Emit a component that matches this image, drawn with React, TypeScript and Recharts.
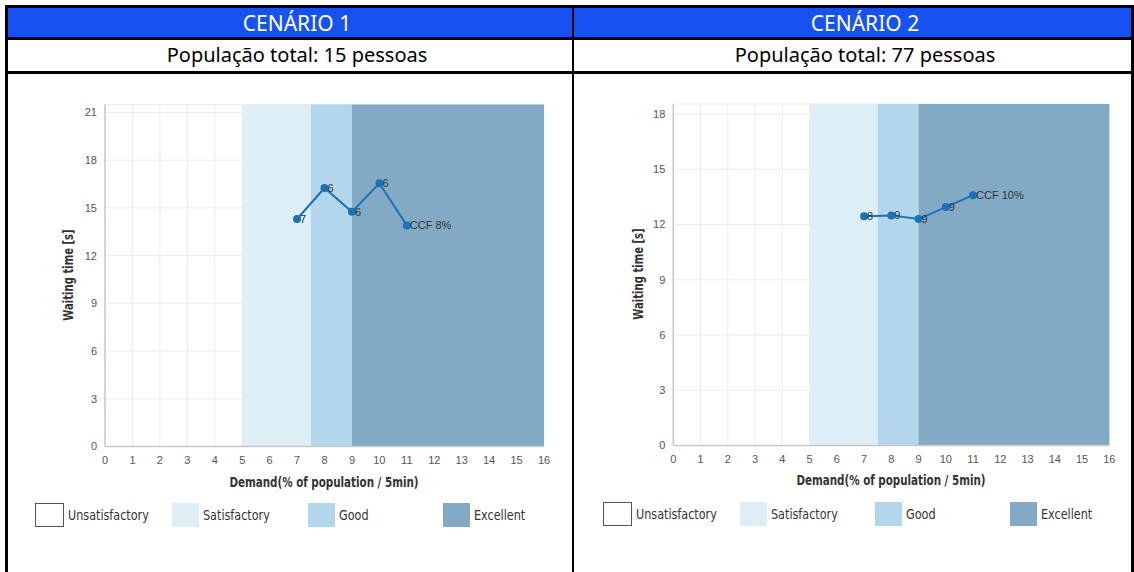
import React from "react";
import {
  CartesianGrid,
  LabelList,
  Line,
  LineChart,
  ReferenceArea,
  XAxis,
  YAxis,
} from "recharts";

// demand (% of population / 5min) and waiting time (s)
const demand = [7, 8, 9, 10, 11];
const waitScenario1 = [14.3, 16.25, 14.75, 16.55, 13.9];
const labelsScenario1 = ["7", "6", "6", "6", "CCF 8%"];
const waitScenario2 = [12.45, 12.5, 12.3, 12.95, 13.6];
const labelsScenario2 = ["8", "9", "9", "9", "CCF 10%"];

const xTicks = [0, 1, 2, 3, 4, 5, 6, 7, 8, 9, 10, 11, 12, 13, 14, 15, 16];
const yTicks1 = [0, 3, 6, 9, 12, 15, 18, 21];
const yTicks2 = [0, 3, 6, 9, 12, 15, 18];

const bandNames = ["Unsatisfactory", "Satisfactory", "Good", "Excellent"];
const bandFrom = [0, 5, 7.5, 9];
const bandTo = [5, 7.5, 9, 16];
const bandColors = ["#ffffff", "#ddeef7", "#b4d6ec", "#82aac4"];

const LINE = "#1a72b9";
const NARROW = '"Liberation Sans Narrow", "DejaVu Sans Condensed", sans-serif';
const ARIAL = '"Liberation Sans", Arial, sans-serif';
const HEAD = '"Noto Sans", "Open Sans", sans-serif';

interface PanelProps {
  left: number;
  wait: number[];
  labels: string[];
  yTicks: number[];
  yMax: number;
  margin: { top: number; right: number; bottom: number; left: number };
  yLabelX: number;
  yLabelY: number;
  xLabelX: number;
  xLabelY: number;
  legendX: number[];
  legendY: number;
}

function Panel(p: PanelProps) {
  const rows = demand.map((d, i) => ({ x: d, y: p.wait[i], label: p.labels[i] }));
  const tick = { fontSize: 11, fill: "#555", fontFamily: ARIAL };
  return (
    <>
      <div style={{ position: "absolute", left: p.left, top: 90 }}>
        <LineChart width={540} height={380} data={rows} margin={p.margin}>
          <CartesianGrid stroke="#ececec" />
          <XAxis
            dataKey="x"
            type="number"
            domain={[0, 16]}
            ticks={xTicks}
            interval={0}
            tick={tick}
            tickLine={false}
            tickMargin={4}
            height={20}
            axisLine={{ stroke: "#c8c8c8", strokeWidth: 1.5 }}
          />
          <YAxis
            type="number"
            domain={[0, p.yMax]}
            ticks={p.yTicks}
            interval={0}
            tick={tick}
            tickLine={false}
            width={40}
            axisLine={{ stroke: "#c8c8c8", strokeWidth: 1.5 }}
          />
          {bandFrom.slice(1).map((from, i) => (
            <ReferenceArea
              key={bandNames[i + 1]}
              x1={from}
              x2={bandTo[i + 1]}
              y1={0}
              y2={p.yMax}
              fill={bandColors[i + 1]}
              fillOpacity={1}
              stroke="none"
            />
          ))}
          <Line
            dataKey="y"
            stroke={LINE}
            strokeWidth={2}
            dot={{ r: 3, fill: LINE, stroke: LINE }}
            isAnimationActive={false}
          >
            <LabelList
              dataKey="label"
              position="right"
              offset={3}
              fill="#333"
              fontSize={11}
              fontFamily={ARIAL}
            />
          </Line>
        </LineChart>
      </div>
      <div
        style={{
          position: "absolute",
          left: p.yLabelX - 80,
          top: p.yLabelY - 10,
          width: 160,
          height: 20,
          lineHeight: "20px",
          textAlign: "center",
          transform: "rotate(-90deg) scaleX(0.8)",
          fontFamily: NARROW,
          fontWeight: "bold",
          fontSize: 14,
          color: "#333",
        }}
      >
        Waiting time [s]
      </div>
      <div
        style={{
          position: "absolute",
          left: p.xLabelX - 150,
          top: p.xLabelY - 10,
          width: 300,
          height: 20,
          lineHeight: "20px",
          textAlign: "center",
          transform: "scaleX(0.82)",
          fontFamily: NARROW,
          fontWeight: "bold",
          fontSize: 14,
          color: "#333",
        }}
      >
        Demand(% of population / 5min)
      </div>
      {bandNames.map((name, i) => (
        <React.Fragment key={name}>
          <div
            style={{
              position: "absolute",
              left: p.legendX[i],
              top: p.legendY,
              width: i === 0 ? 29 : 27,
              height: 24,
              boxSizing: "border-box",
              background: bandColors[i],
              border: i === 0 ? "1px solid #555" : "none",
            }}
          />
          <div
            style={{
              position: "absolute",
              left: p.legendX[i] + (i === 0 ? 33 : 31),
              top: p.legendY,
              height: 24,
              lineHeight: "24px",
              fontFamily: NARROW,
              fontSize: 14,
              color: "#333",
              whiteSpace: "nowrap",
              transform: "scaleX(0.89)",
              transformOrigin: "left center",
            }}
          >
            {name}
          </div>
        </React.Fragment>
      ))}
    </>
  );
}

function Rule({ l, t, w, h }: { l: number; t: number; w: number; h: number }) {
  return <div style={{ position: "absolute", left: l, top: t, width: w, height: h, background: "#000" }} />;
}

function HeadText({ cx, cy, size, color, text }: { cx: number; cy: number; size: number; color: string; text: string }) {
  return (
    <div
      style={{
        position: "absolute",
        left: cx - 200,
        top: cy - 15,
        width: 400,
        height: 30,
        lineHeight: "30px",
        textAlign: "center",
        fontFamily: HEAD,
        fontSize: size,
        color,
        whiteSpace: "nowrap",
      }}
    >
      {text}
    </div>
  );
}

export default function App() {
  return (
    <div
      style={{
        position: "absolute",
        left: 0,
        top: 0,
        width: 1134,
        height: 572,
        overflow: "hidden",
        background: "#fff",
      }}
    >
      <div style={{ position: "absolute", left: 8, top: 7, width: 1123, height: 30, background: "#1851f2" }} />
      <Rule l={5} t={5} w={1129} h={3} />
      <Rule l={5} t={37} w={1129} h={2.5} />
      <Rule l={5} t={71} w={1129} h={2.5} />
      <Rule l={5} t={5} w={3} h={580} />
      <Rule l={1131} t={5} w={3} h={580} />
      <Rule l={572} t={5} w={2} h={580} />
      <HeadText cx={297} cy={22.5} size={21} color="#fff" text="CENÁRIO 1" />
      <HeadText cx={865} cy={22.5} size={21} color="#fff" text="CENÁRIO 2" />
      <HeadText cx={297} cy={55} size={20} color="#000" text="População total: 15 pessoas" />
      <HeadText cx={865} cy={55} size={20} color="#000" text="População total: 77 pessoas" />

      <Panel
        left={20}
        wait={waitScenario1}
        labels={labelsScenario1}
        yTicks={yTicks1}
        yMax={21.5}
        margin={{ top: 14.5, right: 16, bottom: 3.5, left: 45 }}
        yLabelX={68}
        yLabelY={275}
        xLabelX={324}
        xLabelY={481.5}
        legendX={[35, 172, 308, 443]}
        legendY={503}
      />
      <Panel
        left={590}
        wait={waitScenario2}
        labels={labelsScenario2}
        yTicks={yTicks2}
        yMax={18.55}
        margin={{ top: 14, right: 20.7, bottom: 4.5, left: 43.3 }}
        yLabelX={638}
        yLabelY={274}
        xLabelX={891}
        xLabelY={480}
        legendX={[603, 740, 875, 1010]}
        legendY={502}
      />
    </div>
  );
}
